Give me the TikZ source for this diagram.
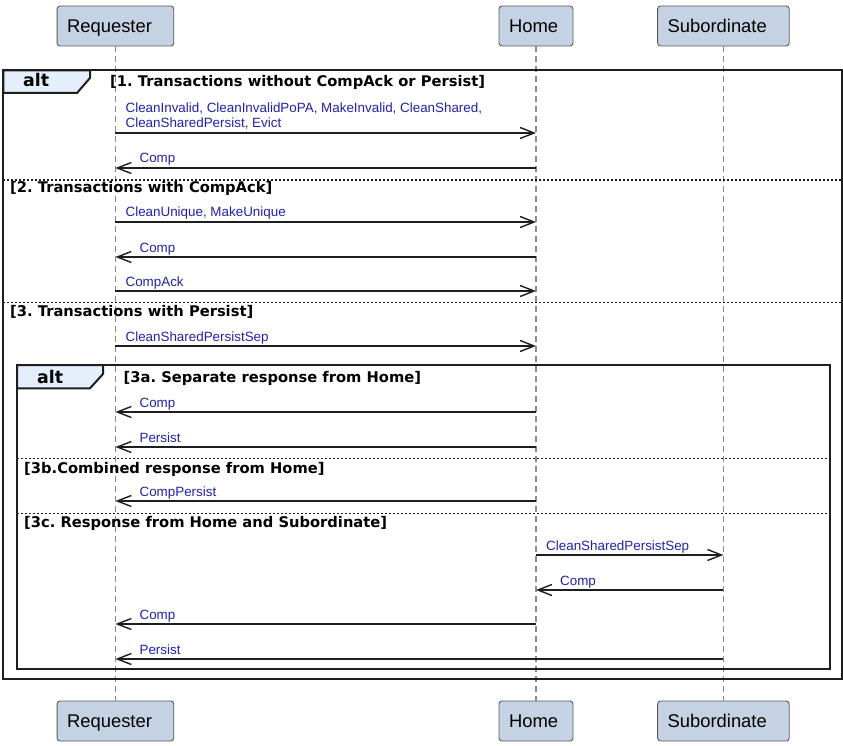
\documentclass[tikz,border=0pt]{standalone}
\usepackage{fontspec}
\setmainfont{Liberation Sans}
\newfontfamily\guardfamily{DejaVu Sans}
\usetikzlibrary{arrows.meta}
\frenchspacing

\definecolor{boxfill}{HTML}{C4D2E4}
\definecolor{boxline}{HTML}{5A5A5A}
\definecolor{tabfill}{HTML}{E4EFFB}
\definecolor{lblblue}{HTML}{2222A8}
\definecolor{lifegray}{HTML}{8A8A8A}
\definecolor{ink}{HTML}{1E1E1E}

\tikzset{
  participant/.style={draw=boxline, fill=boxfill, rounded corners=3pt, line width=0.9pt,
    minimum height=40pt, inner xsep=10pt, inner ysep=0pt, align=left,
    text height=13.5pt, text depth=0pt,
    font=\fontsize{18.4}{22}\selectfont, text=black},
  lifeline/.style={draw=lifegray, line width=1.2pt, dash pattern=on 6pt off 4pt},
  msg/.style={draw=ink, line width=1.4pt, -{Straight Barb[length=14pt,width=11pt]}},
  lbl/.style={text=lblblue, inner sep=0pt, font=\fontsize{13.4}{15}\selectfont},
  frame/.style={draw=ink, line width=2pt},
  tab/.style={draw=ink, line width=2pt, fill=tabfill, line join=miter},
  sep/.style={draw=ink, line width=1.1pt, dash pattern=on 2pt off 2pt},
  guard/.style={inner sep=0pt, anchor=base west, font=\guardfamily\bfseries\fontsize{14.7}{17}\selectfont},
  altlbl/.style={inner sep=0pt, anchor=base west, font=\guardfamily\bfseries\fontsize{17.4}{20}\selectfont},
}

% message from a lifeline to a lifeline further right
\newcommand\sendmsg[4]{%
  \draw[msg] (#1 |- 0,#3) -- (#2 |- 0,#3);
  \node[lbl, anchor=base west, xshift=10pt, yshift=5pt] at (#1 |- 0,#3) {#4};}
% message from a lifeline to a lifeline further left
\newcommand\replymsg[4]{%
  \draw[msg] (#1 |- 0,#3) -- (#2 |- 0,#3);
  \node[lbl, anchor=base west, xshift=24pt, yshift=5pt] at (#2 |- 0,#3) {#4};}

\begin{document}
\begin{tikzpicture}[x=1pt, y=-1pt]
\useasboundingbox[fill=white] (0,0) rectangle (843,746);

% participants, top and bottom
\node[participant, text width=96.7pt] (reqTop)  at (115.4,26)  {Requester};
\node[participant, text width=54pt]   (homeTop) at (536,26)    {Home};
\node[participant, text width=111.6pt](subTop)  at (723.4,26)  {Subordinate};
\node[participant, text width=96.7pt] (reqBot)  at (115.4,721) {Requester};
\node[participant, text width=54pt]   (homeBot) at (536,721)   {Home};
\node[participant, text width=111.6pt](subBot)  at (723.4,721) {Subordinate};

% lifelines
\draw[lifeline] (reqTop.south)  -- (reqBot.north);
\draw[lifeline] (homeTop.south) -- (homeBot.north);
\draw[lifeline] (subTop.south)  -- (subBot.north);

% outer alt fragment
\draw[frame] (3.3,70.5) rectangle (842.3,679);
\draw[tab] (3.3,70.5) -- (90,70.5) -- (90,78) -- (77,93) -- (3.3,93) -- cycle;
\node[altlbl] (altA) at (23,87) {alt};
\node[guard] (g1) at (110,87) {[1. Transactions without CompAck or Persist]};
\draw[sep] (3.3,180) -- (842.3,180);
\node[guard] (g2) at (10,193) {[2. Transactions with CompAck]};
\draw[sep] (3.3,302.5) -- (842.3,302.5);
\node[guard] (g3) at (10,316.5) {[3. Transactions with Persist]};

% inner alt fragment
\draw[frame] (17,365) rectangle (830,669);
\draw[tab] (17,365) -- (103,365) -- (103,374) -- (90,388.3) -- (17,388.3) -- cycle;
\node[altlbl] (altB) at (37,383) {alt};
\node[guard] (g3a) at (123.5,382.5) {[3a. Separate response from Home]};
\draw[sep] (17,458.3) -- (830,458.3);
\node[guard] (g3b) at (24,473) {[3b.Combined response from Home]};
\draw[sep] (17,513.3) -- (830,513.3);
\node[guard] (g3c) at (24,527.5) {[3c. Response from Home and Subordinate]};

% messages
\sendmsg{reqTop}{homeTop}{133}{\begin{tabular}[b]{@{}l@{}}CleanInvalid, CleanInvalidPoPA, MakeInvalid, CleanShared,\\ CleanSharedPersist, Evict\end{tabular}}
\replymsg{homeTop}{reqTop}{168}{Comp}
\sendmsg{reqTop}{homeTop}{222}{CleanUnique, MakeUnique}
\replymsg{homeTop}{reqTop}{257}{Comp}
\sendmsg{reqTop}{homeTop}{291}{CompAck}
\sendmsg{reqTop}{homeTop}{346}{CleanSharedPersistSep}
\replymsg{homeTop}{reqTop}{412}{Comp}
\replymsg{homeTop}{reqTop}{447}{Persist}
\replymsg{homeTop}{reqTop}{501}{CompPersist}
\sendmsg{homeTop}{subTop}{555}{CleanSharedPersistSep}
\replymsg{subTop}{homeTop}{590}{Comp}
\replymsg{homeTop}{reqTop}{624}{Comp}
\replymsg{subTop}{reqTop}{659}{Persist}
\end{tikzpicture}
\end{document}
